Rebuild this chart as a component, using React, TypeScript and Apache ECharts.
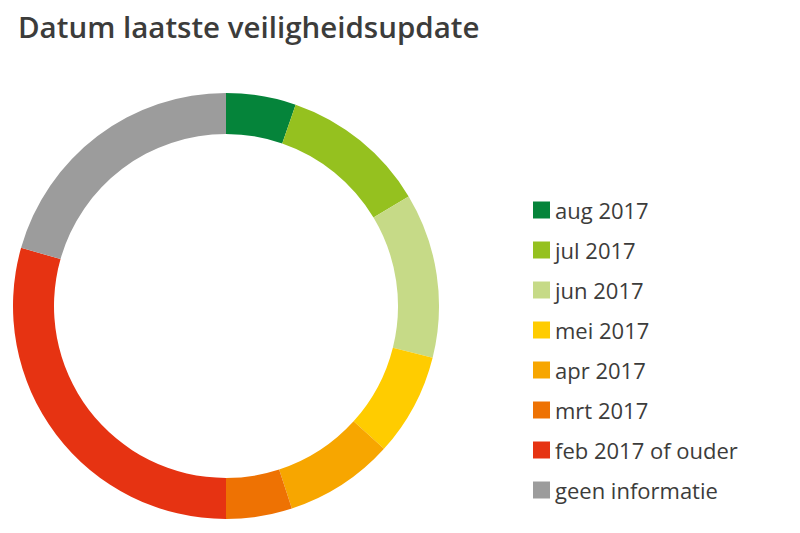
import React, { useEffect, useRef } from "react";
import * as echarts from "echarts";

const categories = [
  "aug 2017",
  "jul 2017",
  "jun 2017",
  "mei 2017",
  "apr 2017",
  "mrt 2017",
  "feb 2017 of ouder",
  "geen informatie",
];
const values = [5.3, 11.1, 12.5, 7.8, 8.3, 5.0, 29.4, 20.6];
const colors = [
  "#05843A",
  "#95C11F",
  "#C6DA87",
  "#FFCC00",
  "#F7A600",
  "#EE7203",
  "#E63312",
  "#9C9C9C",
];

export default function App() {
  const ref = useRef<HTMLDivElement>(null);
  useEffect(() => {
    if (!ref.current) return;
    const chart = echarts.init(ref.current, null, { renderer: "svg" });
    chart.setOption({
      animation: false,
      backgroundColor: "#ffffff",
      title: {
        text: "Datum laatste veiligheidsupdate",
        left: 13,
        top: 6,
        textStyle: {
          fontFamily: "Open Sans",
          fontWeight: 600,
          fontSize: 29.5,
          color: "#3C3C3B",
        },
      },
      legend: {
        orient: "vertical",
        left: 528,
        top: 194,
        height: 330,
        itemWidth: 17,
        itemHeight: 17,
        itemGap: 18,
        icon: "rect",
        selectedMode: false,
        data: categories,
        textStyle: {
          fontFamily: "Open Sans",
          fontSize: 22,
          color: "#3C3C3B",
        },
      },
      series: [
        {
          type: "pie",
          center: [226, 306],
          radius: [172, 213],
          startAngle: 90,
          clockwise: true,
          label: { show: false },
          labelLine: { show: false },
          emphasis: { disabled: true },
          itemStyle: { borderWidth: 0 },
          data: categories.map((name, i) => ({
            name,
            value: values[i],
            itemStyle: { color: colors[i] },
          })),
        },
      ],
    });
    return () => chart.dispose();
  }, []);
  return (
    <div
      ref={ref}
      style={{ position: "fixed", left: 0, top: 0, width: 800, height: 533 }}
    />
  );
}
